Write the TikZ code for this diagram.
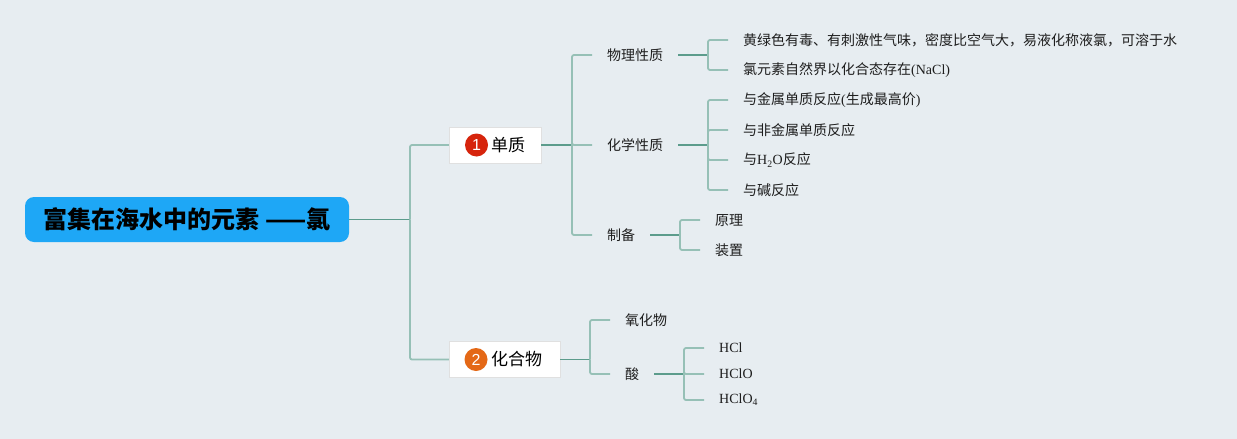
\documentclass[tikz,border=0pt]{standalone}
\usepackage{fontspec}
\setmainfont{Liberation Serif}
\newfontfamily\cjk{Noto Sans CJK SC}
\newfontfamily\numfont{Liberation Sans}
\newcommand{\lat}[1]{{\rmfamily #1}}
\definecolor{bgcol}{RGB}{231,237,241}
\definecolor{lnlight}{RGB}{150,192,182}
\definecolor{lndark}{RGB}{92,156,140}
\definecolor{rootblue}{RGB}{30,167,246}
\definecolor{numred}{RGB}{214,36,12}
\definecolor{numorange}{RGB}{228,104,22}
\definecolor{txtcol}{RGB}{30,30,30}
\begin{document}
\begin{tikzpicture}[x=1pt, y=-1pt,
  lt/.style={draw=lnlight, line width=1.8pt, rounded corners=2pt},
  dk/.style={draw=lndark, line width=1.6pt},
  lbl/.style={anchor=west, inner xsep=15pt, inner ysep=2pt, text=txtcol, font=\cjk\fontsize{14}{16}\selectfont},
  chem/.style={lbl, font=\rmfamily\fontsize{14}{16}\selectfont},
  box/.style={draw=black!12, fill=white, minimum width=#1, minimum height=36pt, inner sep=0pt},
  num/.style={circle, fill=#1, text=white, minimum size=23pt, inner sep=0pt, font=\numfont\fontsize{16}{16}\selectfont},
  boxtxt/.style={anchor=west, inner sep=1pt, text=black, font=\cjk\fontsize{17}{19}\selectfont}]
  % 1. 背景 (固定画布大小)
  \fill[bgcol] (0,0) rectangle (1237,439);

  % 2. 中心主题与两个分支框
  \node[fill=rootblue, rounded corners=9pt, minimum width=324pt, minimum height=45pt, inner sep=0pt,
        font=\cjk\bfseries\fontsize{24}{26}\selectfont] (root) at (187,219.5) {富集在海水中的元素 ——氯};
  \node[box=92pt] (dz) at (495,145) {};
  \node[num=numred] (n1) at (476.5,145) {1};
  \node[boxtxt] (dzt) at (490,145) {单质};
  \node[box=111pt] (hhw) at (504.5,359.5) {};
  \node[num=numorange] (n2) at (476,359.5) {2};
  \node[boxtxt] (hhwt) at (490,359.5) {化合物};

  % 3. 分叉点
  \coordinate (j0) at (410,219.5);
  \coordinate (j1) at (572,145);
  \coordinate (j2) at (708,55);
  \coordinate (j3) at (708,145);
  \coordinate (j4) at (680,235);
  \coordinate (j5) at (590,359.5);
  \coordinate (j6) at (684,374);

  % 4. 二级标题
  \node[lbl] (wl) at (592,55) {物理性质};
  \node[lbl] (hx) at (592,145) {化学性质};
  \node[lbl] (zb) at (592,235) {制备};
  \node[lbl] (yhw) at (610,320) {氧化物};
  \node[lbl] (suan) at (610,374) {酸};

  % 5. 叶子节点
  \node[lbl] (p1) at (728,40) {黄绿色有毒、有刺激性气味，密度比空气大，易液化称液氯，可溶于水};
  \node[lbl] (p2) at (728,70) {氯元素自然界以化合态存在\lat{(NaCl)}};
  \node[lbl] (c1) at (728,100) {与金属单质反应\lat{(}生成最高价\lat{)}};
  \node[lbl] (c2) at (728,130) {与非金属单质反应};
  \node[lbl] (c3) at (728,160) {与\lat{H\textsubscript{2}O}反应};
  \node[lbl] (c4) at (728,190) {与碱反应};
  \node[lbl] (z1) at (700,220) {原理};
  \node[lbl] (z2) at (700,250) {装置};
  \node[chem] (a1) at (704,348) {HCl};
  \node[chem] (a2) at (704,374) {HClO};
  \node[chem] (a3) at (704,400) {HClO\textsubscript{4}};

  % 6. 连线 (父节点 -> 分叉点 -> 子节点)
  \draw[dk, line width=1.1pt] (root) -- (j0);
  \draw[lt] (j0) |- (dz);
  \draw[lt] (j0) |- (hhw);
  \draw[dk] (dz) -- (j1);
  \foreach \n in {wl,hx,zb} \draw[lt] (j1) |- (\n);
  \draw[dk] (wl) -- (j2);
  \foreach \n in {p1,p2} \draw[lt] (j2) |- (\n);
  \draw[dk] (hx) -- (j3);
  \foreach \n in {c1,c2,c3,c4} \draw[lt] (j3) |- (\n);
  \draw[dk] (zb) -- (j4);
  \foreach \n in {z1,z2} \draw[lt] (j4) |- (\n);
  \draw[dk, line width=1.1pt] (hhw) -- (j5);
  \foreach \n in {yhw,suan} \draw[lt] (j5) |- (\n);
  \draw[dk] (suan) -- (j6);
  \foreach \n in {a1,a2,a3} \draw[lt] (j6) |- (\n);
\end{tikzpicture}
\end{document}
